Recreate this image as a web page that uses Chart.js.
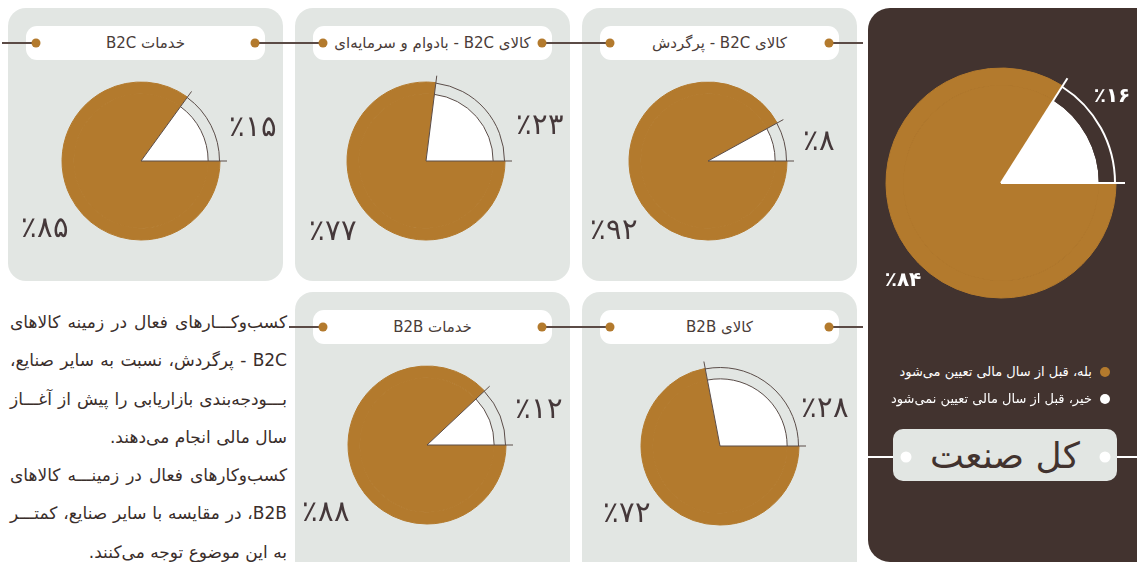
<!DOCTYPE html>
<html lang="fa">
<head>
<meta charset="utf-8">
<script src="https://cdn.jsdelivr.net/npm/chart.js@4.4.1/dist/chart.umd.min.js"></script>
<style>
  html, body { margin: 0; padding: 0; }
  body { width: 1137px; height: 562px; overflow: hidden; position: relative; background: #fff;
         font-family: 'DejaVu Sans', sans-serif; color: #42332f; }
  .panel { position: absolute; background: #e2e6e3; border-radius: 18px; }
  .dark { position: absolute; left: 868px; top: 8px; width: 290px; height: 554px; background: #42332f; border-radius: 22px 0 0 22px; }
  .pill { position: absolute; background: #fff; border-radius: 11px; display: flex; align-items: center;
          justify-content: center; font-size: 15px; direction: rtl; color: #4a3c38; }
  .seg { position: absolute; height: 1.5px; background: #5b4b46; }
  .dot { position: absolute; width: 9px; height: 9px; border-radius: 50%; background: #b37a2d; transform: translate(-50%, -50%); }
  .pct { position: absolute; transform: translate(-50%, -50%); font-size: 29px; font-weight: 200; direction: ltr; white-space: nowrap; line-height: 1; color: #45383a; }
  .pct.light { color: #fff; font-size: 20px; font-weight: 600; }
  canvas { position: absolute; }
  .note { position: absolute; left: 10px; top: 303px; width: 277px; direction: rtl; font-size: 17px; line-height: 38.3px; color: #3a2e2b; }
  .note .j { text-align: justify; text-align-last: justify; }
  .legend { position: absolute; right: 27px; direction: rtl; color: #fff; font-size: 13px; white-space: nowrap; }
  .legend i { display: inline-block; width: 10px; height: 10px; border-radius: 50%; margin-left: 8px; vertical-align: -1px; }
  .big-title { position: absolute; left: 893px; top: 429px; width: 224px; height: 52px; background: #e2e6e3; border-radius: 10px;
               display: flex; align-items: center; justify-content: center; font-size: 36px; color: #42332f; direction: rtl; }
</style>
</head>
<body>
<script>
// values (percent of businesses)
const categories = ['خدمات B2C', 'کالای B2C - بادوام و سرمایه‌ای', 'کالای B2C - پرگردش', 'خدمات B2B', 'کالای B2B', 'کل صنعت'];
const yesValues = [85, 77, 92, 88, 72, 84];
const noValues = [15, 23, 8, 12, 28, 16];
const answerLabels = ['بله، قبل از سال مالی تعیین می‌شود', 'خیر، قبل از سال مالی تعیین نمی‌شود'];

const BROWN = '#b37a2d';
const GREY = '#e2e6e3';
const DARK = '#42332f';

// where each small panel sits on the page
const panelBoxes = [
  { x: 8,   y: 8,   h: 273, cx: 141, cy: 161, noAt: [253, 126], yesAt: [45, 227] },
  { x: 295, y: 8,   h: 273, cx: 426, cy: 161, noAt: [540, 124], yesAt: [333, 230] },
  { x: 582, y: 8,   h: 273, cx: 708, cy: 161, noAt: [819, 140], yesAt: [614, 229] },
  { x: 295, y: 292, h: 300, cx: 427, cy: 445, noAt: [539, 408], yesAt: [326, 511] },
  { x: 582, y: 292, h: 300, cx: 720, cy: 446, noAt: [825, 407], yesAt: [627, 512] },
];
const bigBox = { cx: 1001, cy: 183, noAt: [1112, 95], yesAt: [903, 279] };

const toFa = n => String(n).replace(/\d/g, d => '۰۱۲۳۴۵۶۷۸۹'[d]);

function el(cls, css, html) {
  const d = document.createElement('div');
  d.className = cls;
  Object.assign(d.style, css);
  if (html !== undefined) d.innerHTML = html;
  document.body.appendChild(d);
  return d;
}

// outline round the small ("no") wedge: arcs plus the two radial edges
const wedgeLines = {
  id: 'wedgeLines',
  afterDatasetsDraw(chart, args, opts) {
    const ring = chart.getDatasetMeta(0).data[1];
    const core = chart.getDatasetMeta(1).data[1];
    const { x, y, startAngle, endAngle, outerRadius } = ring.getProps(['x', 'y', 'startAngle', 'endAngle', 'outerRadius'], true);
    const ctx = chart.ctx;
    ctx.save();
    ctx.strokeStyle = opts.color;
    ctx.lineWidth = opts.width;
    ctx.beginPath();
    ctx.arc(x, y, outerRadius - opts.width / 2, startAngle, endAngle);
    ctx.stroke();
    if (opts.innerArc) {
      ctx.beginPath();
      ctx.arc(x, y, core.outerRadius, startAngle, endAngle);
      ctx.stroke();
    }
    const reach = outerRadius + opts.overhang;
    [startAngle, endAngle].forEach(a => {
      ctx.beginPath();
      ctx.moveTo(x, y);
      ctx.lineTo(x + Math.cos(a) * reach, y + Math.sin(a) * reach);
      ctx.stroke();
    });
    ctx.restore();
  }
};

function makePie(i, cx, cy, radius, band, lineOpts) {
  const size = Math.round(radius * 2 + 30);
  const canvas = document.createElement('canvas');
  canvas.width = size;
  canvas.height = size;
  canvas.style.left = (cx - size / 2) + 'px';
  canvas.style.top = (cy - size / 2) + 'px';
  document.body.appendChild(canvas);
  return new Chart(canvas, {
    type: 'pie',
    data: {
      labels: answerLabels,
      datasets: [
        { data: [yesValues[i], noValues[i]], backgroundColor: [BROWN, band], borderColor: BROWN, borderWidth: [1, 0], weight: 15 },
        { data: [yesValues[i], noValues[i]], backgroundColor: [BROWN, '#ffffff'], borderColor: BROWN, borderWidth: [1, 0], weight: 85 },
      ]
    },
    options: {
      responsive: false,
      animation: false,
      events: [],
      rotation: 90,
      radius: radius,
      plugins: { legend: { display: false }, tooltip: { enabled: false }, wedgeLines: lineOpts }
    },
    plugins: [wedgeLines]
  });
}

// small grey panels
panelBoxes.forEach((b, i) => {
  const w = 275;
  el('panel', { left: b.x + 'px', top: b.y + 'px', width: w + 'px', height: b.h + 'px' });
  const py = b.y + 35;
  el('seg', { left: (b.x - 6) + 'px', width: 34 + 'px', top: (py - 0.75) + 'px' });
  el('seg', { left: (b.x + w - 28) + 'px', width: 34 + 'px', top: (py - 0.75) + 'px' });
  el('pill', { left: (b.x + 18) + 'px', top: (b.y + 18) + 'px', width: (w - 36) + 'px', height: '34px' }, categories[i]);
  el('seg', { left: (b.x + 18) + 'px', width: 10 + 'px', top: (py - 0.75) + 'px' });
  el('seg', { left: (b.x + w - 28) + 'px', width: 10 + 'px', top: (py - 0.75) + 'px' });
  el('dot', { left: (b.x + 28) + 'px', top: py + 'px' });
  el('dot', { left: (b.x + w - 28) + 'px', top: py + 'px' });
  makePie(i, b.cx, b.cy, 79, GREY, { color: '#5b4d49', width: 1, innerArc: true, overhang: 7 });
  el('pct', { left: b.noAt[0] + 'px', top: b.noAt[1] + 'px' }, '٪' + toFa(noValues[i]));
  el('pct', { left: b.yesAt[0] + 'px', top: b.yesAt[1] + 'px' }, '٪' + toFa(yesValues[i]));
});

// whole-industry panel
el('dark', {});
makePie(5, bigBox.cx, bigBox.cy, 115, DARK, { color: '#ffffff', width: 2, innerArc: false, overhang: 9 });
el('pct light', { left: bigBox.noAt[0] + 'px', top: bigBox.noAt[1] + 'px' }, '٪' + toFa(noValues[5]));
el('pct light', { left: bigBox.yesAt[0] + 'px', top: bigBox.yesAt[1] + 'px' }, '٪' + toFa(yesValues[5]));
el('legend', { top: '364px' }, '<i style="background:' + BROWN + '"></i>' + answerLabels[0]);
el('legend', { top: '391px' }, '<i style="background:#fff"></i>' + answerLabels[1]);
el('seg', { left: '868px', width: '40px', top: '456px', background: '#fff' });
el('seg', { left: '1104px', width: '40px', top: '456px', background: '#fff' });
el('big-title', {}, categories[5]);
el('dot', { left: '906px', top: '457px', background: '#fff', width: '11px', height: '11px' });
el('dot', { left: '1105px', top: '457px', background: '#fff', width: '11px', height: '11px' });

// findings text
el('note', {},
  '<div class="j">کسب‌وکـــارهای فعال در زمینه کالاهای</div>' +
  '<div class="j">B2C - پرگردش، نسبت به سایر صنایع،</div>' +
  '<div class="j">بـــودجه‌بندی بازاریابی را پیش از آغـــاز</div>' +
  '<div>سال مالی انجام می‌دهند.</div>' +
  '<div class="j">کسب‌وکارهای فعال در زمینـــه کالاهای</div>' +
  '<div class="j">B2B، در مقایسه با سایر صنایع، کمتـــر</div>' +
  '<div>به این موضوع توجه می‌کنند.</div>');
</script>
</body>
</html>
